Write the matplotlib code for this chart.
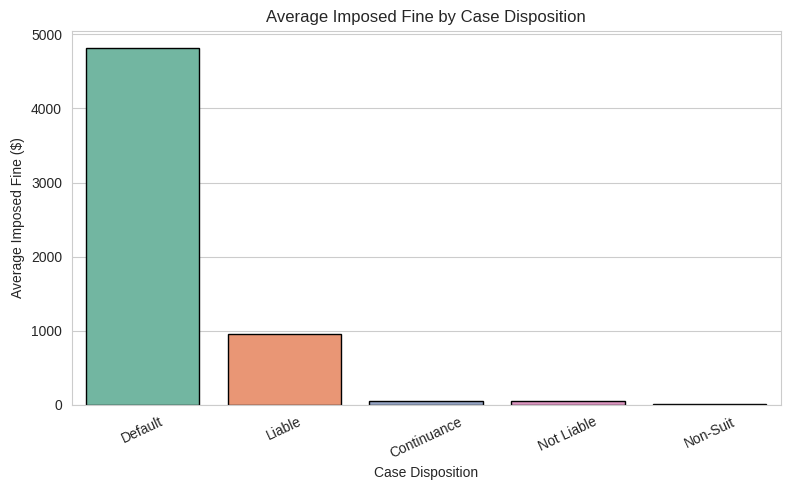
import matplotlib
matplotlib.use('Agg')
import matplotlib.pyplot as plt
import seaborn as sns

# Average fine per disposition
dispositions = ['Default', 'Liable', 'Continuance', 'Not Liable', 'Non-Suit']
avg_fine = [4811, 957, 55, 55, 12]

sns.set_style('whitegrid')
plt.rcParams['font.family'] = ['Liberation Sans', 'DejaVu Sans']

fig, ax = plt.subplots(figsize=(7.9, 4.9), dpi=100)
# seaborn barplot desaturates its palette by 0.75
colors = [sns.desaturate(c, 0.75) for c in sns.color_palette('Set2', len(dispositions))]
ax.bar(dispositions, avg_fine, color=colors, edgecolor='black', linewidth=1, width=0.8)

ax.set_title('Average Imposed Fine by Case Disposition')
ax.set_xlabel('Case Disposition')
ax.set_ylabel('Average Imposed Fine ($)')
ax.set_xlim(-0.5, len(dispositions) - 0.5)
ax.set_ylim(0, 5049)
plt.xticks(rotation=25)
ax.grid(axis='x', visible=False)

fig.subplots_adjust(left=0.0908, right=0.988, top=0.9373, bottom=0.1735)
plt.savefig('out.png', dpi=100)
